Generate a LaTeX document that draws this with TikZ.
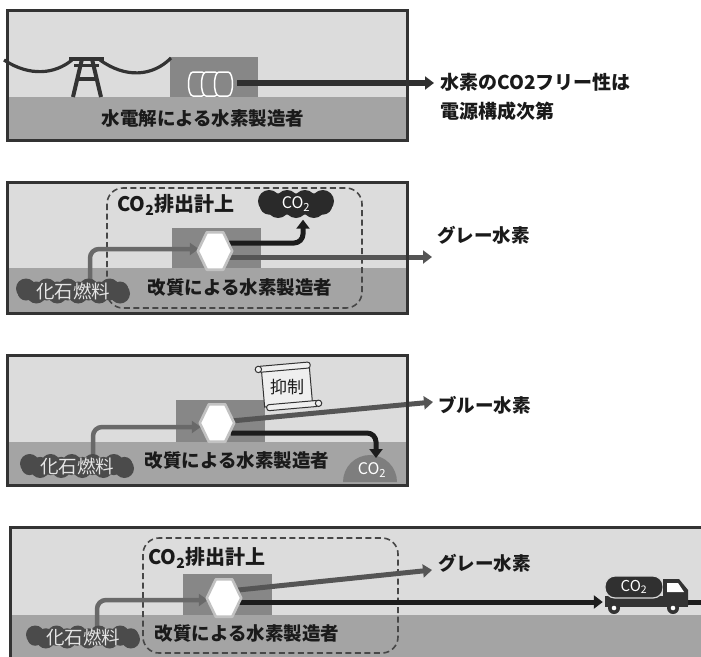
\documentclass[tikz,border=0pt]{standalone}
\usepackage{fontspec}
\setmainfont{Noto Sans CJK JP}
\usetikzlibrary{arrows.meta,calc}

\definecolor{framec}{HTML}{333333}
\definecolor{skyc}{HTML}{DCDCDC}
\definecolor{groundc}{HTML}{A4A4A4}
\definecolor{bldgc}{HTML}{878787}
\definecolor{pipec}{HTML}{555555}
\definecolor{darkpipec}{HTML}{1C1C1C}
\definecolor{fuelpipec}{HTML}{696969}
\definecolor{fuelcloudc}{HTML}{4B4B4B}
\definecolor{co2cloudc}{HTML}{2A2A2A}
\definecolor{hexrimc}{HTML}{C2C2C2}
\definecolor{inkc}{HTML}{1A1A1A}
\definecolor{domec}{HTML}{7E7E7E}
\definecolor{scrollc}{HTML}{EFEFEF}

% scalloped cloud: centre x, centre y, width, height, colour, number of puffs per edge
\newcommand\puffcloud[6]{%
  \pgfmathsetmacro\pr{#4*0.40}%
  \pgfmathsetmacro\hx{#3/2-\pr}%
  \pgfmathsetmacro\hy{#4/2-\pr}%
  \fill[#5] ({#1-\hx},{#2-\hy}) rectangle ({#1+\hx},{#2+\hy});
  \foreach \t in {0,...,#6} {
    \pgfmathsetmacro\rr{mod(\t,2)==0 ? \pr : \pr*0.85}
    \fill[#5] ({#1-\hx+2*\hx*\t/#6},{#2-\hy+\pr-\rr}) circle (\rr);
    \pgfmathsetmacro\rb{mod(\t,2)==1 ? \pr : \pr*0.85}
    \fill[#5] ({#1-\hx+2*\hx*\t/#6},{#2+\hy-\pr+\rb}) circle (\rb);
  }
}
% hexagonal reactor drawn round a named box
\newcommand\hexcell[1]{%
  \draw[hexrimc, line width=2.6pt, fill=white, line join=round]
    (#1.west) -- ([xshift=9pt]#1.north west) -- ([xshift=-9pt]#1.north east)
    -- (#1.east) -- ([xshift=-9pt]#1.south east) -- ([xshift=9pt]#1.south west) -- cycle;
}

\begin{document}
\begin{tikzpicture}[x=1pt,y=-1pt,
  framebox/.style={draw=framec, line width=3pt},
  hexbox/.style={minimum width=34pt, minimum height=37pt, inner sep=0pt},
  pipe/.style={draw=pipec, line width=5pt, -{Triangle[length=9pt,width=13pt]}},
  darkpipe/.style={draw=darkpipec, line width=5pt, rounded corners=9pt, -{Triangle[length=9pt,width=13pt]}},
  fuelpipe/.style={draw=fuelpipec, line width=4.5pt, rounded corners=9pt, -{Triangle[length=9pt,width=12pt]}},
  dashbox/.style={draw=framec!90, line width=1.6pt, dash pattern=on 6pt off 3.5pt, rounded corners=16pt},
  lab/.style={font=\fontsize{18.5}{22}\selectfont\bfseries, text=inkc, inner sep=0pt},
  biglab/.style={font=\fontsize{20}{24}\selectfont\bfseries, text=inkc, inner sep=0pt},
  fueltext/.style={font=\fontsize{18.5}{22}\selectfont, text=white!90!black, inner sep=0pt},
  co2text/.style={font=\fontsize{16}{20}\selectfont, text=white, inner sep=0pt},
]
\useasboundingbox (0,0) rectangle (701,656);
\clip (0,0) rectangle (701,656);
\fill[white] (0,0) rectangle (701,656);

%% ---------- electrolysis ----------
\fill[skyc] (7,10) rectangle (407,97);
\fill[groundc] (7,97) rectangle (407,140);
\fill[bldgc] (170,57) rectangle (258,97);
% transmission line
\draw[framec, line width=3.2pt] (4,60) .. controls (30,77) and (55,74) .. (72,60);
\draw[framec, line width=3.2pt] (100,60) .. controls (125,78) and (152,77) .. (171,58);
\draw[framec, line width=4pt] (69,59) -- (104,59);
\draw[framec, line width=3pt] (74,65) -- (99,65);
\draw[framec, line width=4pt] (82,59) -- (73,97);
\draw[framec, line width=4pt] (92,59) -- (101,97);
\draw[framec, line width=3.5pt] (76,79) -- (98,79);
% electrolyser cells
\foreach \cx in {193,206,219}
  \draw[white, line width=1.5pt, fill=bldgc]
    (\cx,72) -- (\cx+9,72) .. controls (\cx+15,72) and (\cx+15,96) .. (\cx+9,96)
    -- (\cx,96) .. controls (\cx-6,96) and (\cx-6,72) .. (\cx,72) -- cycle;
\node[minimum width=48pt, minimum height=22pt, inner sep=0pt] (cyl) at (212,84) {};
\node[lab, anchor=center] (t1) at (203,118) {水電解による水素製造者};
\node[lab, font=\fontsize{19}{29}\selectfont\bfseries, align=left, anchor=west, inner sep=0pt] (n1) at (440,97)
  {水素のCO2フリー性は\\電源構成次第};
\draw[pipe, draw=framec!95!black, line width=5.5pt] ($(cyl.east)+(1,-1)$) -- ($(cyl.east -| n1.west)+(-6,-1)$);
\draw[framebox] (7,10) rectangle (407,140);

%% ---------- reforming, CO2 counted ----------
\fill[skyc] (7,182) rectangle (407,268);
\fill[groundc] (7,268) rectangle (407,313);
\fill[bldgc] (172,228) rectangle (261,268);
\node[hexbox] (h2) at (215,251) {};
\node[inner sep=0pt, minimum width=76pt, minimum height=27pt] (c2) at (296,204) {};
\node[inner sep=0pt, minimum width=113pt, minimum height=24pt] (f2) at (73,291) {};
\coordinate (e2) at (432,257);
\draw[dashbox] (107,188) rectangle (362,308);
\draw[fuelpipe] ($(f2.center)+(17,-6)$) |- ($(h2.west)+(1,-2)$);
\draw[pipe] ($(h2.east)+(-3,6)$) -- (e2);
\draw[darkpipe] ($(h2.east)+(-3,-8)$) -| ($(c2.south)+(7,2)$);
\puffcloud{73}{291}{114}{25}{fuelcloudc}{9}
\puffcloud{296}{204}{76}{28}{co2cloudc}{6}
\hexcell{h2}
\node[fueltext] at (f2) {化石燃料};
\node[co2text] at (c2) {CO\textsubscript{2}};
\node[biglab, anchor=west] (k2) at (117,205) {CO\textsubscript{2}排出計上};
\node[lab] (t2) at (240,288) {改質による水素製造者};
\node[lab, anchor=west] (g2) at (437,235) {グレー水素};
\draw[framebox] (7,182) rectangle (407,313);

%% ---------- reforming with capture ----------
\fill[skyc] (7,355) rectangle (407,442);
\fill[groundc] (7,442) rectangle (407,485);
\fill[bldgc] (176,400) rectangle (265,442);
\fill[domec] (343,482) arc[start angle=180, end angle=360, radius=27] -- cycle;
\node[hexbox] (h3) at (217,423) {};
\node[inner sep=0pt, minimum width=113pt, minimum height=23pt] (f3) at (77,466) {};
\coordinate (dtop) at (376,458);
\coordinate (e3) at (433,402);
% restriction scroll
\begin{scope}[shift={(287,387)}, rotate=5]
  \draw[framec, line width=1pt, fill=scrollc] (-24,-19) rectangle (24,18);
  \draw[framec, line width=1pt, fill=scrollc, rounded corners=2.5pt] (-27,-23) rectangle (25,-17);
  \draw[framec, line width=1pt, fill=scrollc] (-27,-20) circle (3.2);
  \draw[framec, line width=1pt, fill=scrollc, rounded corners=2.5pt] (-22,16) rectangle (30,22);
  \draw[framec, line width=1pt, fill=scrollc] (30,19) circle (3.2);
  \node[font=\fontsize{17}{20}\selectfont, text=inkc, inner sep=0pt] (sc) at (0,0) {抑制};
\end{scope}
\draw[fuelpipe] ($(f3.center)+(16,-6)$) |- ($(h3.west)+(1,4)$);
\draw[pipe] ($(h3.east)+(-3,-2)$) -- (e3);
\draw[darkpipe] ($(h3.east)+(-3,10)$) -| (dtop);
\puffcloud{77}{466}{114}{24}{fuelcloudc}{9}
\hexcell{h3}
\node[fueltext] at (f3) {化石燃料};
\node[co2text] at (372,470) {CO\textsubscript{2}};
\node[lab] (t3) at (237,460) {改質による水素製造者};
\node[lab, anchor=west] (g3) at (438,405) {ブルー水素};
\draw[framebox] (7,355) rectangle (407,485);

%% ---------- reforming, CO2 shipped away ----------
\fill[skyc] (10,527) rectangle (710,615);
\fill[groundc] (10,615) rectangle (710,665);
\fill[bldgc] (183,574) rectangle (272,615);
\node[hexbox] (h4) at (224,598) {};
\node[inner sep=0pt, minimum width=113pt, minimum height=22pt] (f4) at (83,637) {};
\node[inner sep=0pt, minimum width=84pt, minimum height=38pt] (truck) at (646,593) {};
\coordinate (e4) at (432,570);
\coordinate (r4) at (710,602);
\draw[dashbox] (143,538) rectangle (398,653);
\draw[fuelpipe] ($(f4.center)+(14,-6)$) |- ($(h4.west)+(1,2)$);
\draw[pipe] ($(h4.east)+(-3,-8)$) -- (e4);
\draw[darkpipe] ($(h4.east)+(-3,4)$) -- ($(truck.west |- r4)+(-1,0)$);
\draw[darkpipec, line width=5pt] ($(truck.east |- r4)+(-2,0)$) -- (r4);
% tank lorry
\fill[framec] (605,596) rectangle (688,607);
\draw[white!85!black, line width=1.2pt, fill=framec!95!black, rounded corners=10pt] (605,576) rectangle (663,598);
\fill[framec] (663,579) -- (679,579) -- (688,590) -- (688,606) -- (663,606) -- cycle;
\fill[white] (667,583) -- (678,583) -- (684,592) -- (667,592) -- cycle;
\foreach \wx in {614,673} {
  \fill[framec] (\wx,608) circle (6);
  \fill[white] (\wx,608) circle (2.3);
}
\node[co2text, font=\fontsize{15}{18}\selectfont] at (634,587) {CO\textsubscript{2}};
\puffcloud{83}{637}{114}{23}{fuelcloudc}{9}
\hexcell{h4}
\node[fueltext] at (f4) {化石燃料};
\node[biglab, anchor=west] (k4) at (148,558) {CO\textsubscript{2}排出計上};
\node[lab] (t4) at (247,633) {改質による水素製造者};
\node[lab, anchor=west] (g4) at (438,563) {グレー水素};
\draw[framebox] (10,527) rectangle (710,665);
\end{tikzpicture}
\end{document}
